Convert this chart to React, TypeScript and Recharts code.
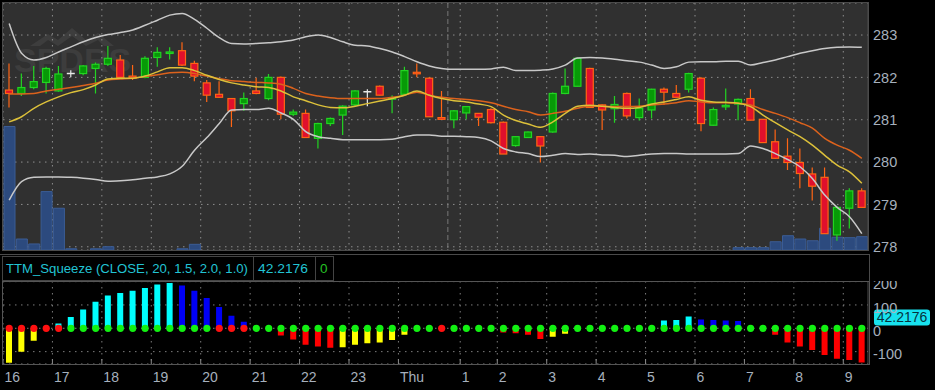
import React from 'react';
import { ComposedChart, Bar, Line, XAxis, YAxis, CartesianGrid, Cell, ReferenceLine } from 'recharts';

// hour labels and the bar index where each hour starts (15 min bars)
const hourLabels = ['16', '17', '18', '19', '20', '21', '22', '23', 'Thu', '1', '2', '3', '4', '5', '6', '7', '8', '9'];
const hourStarts = [0, 4, 8, 12, 16, 20, 24, 28, 32, 37, 40, 44, 48, 52, 56, 60, 64, 68];
const sessionBreak = [36];

const open = [
  281.70, 281.62, 281.76, 281.88, 281.68, 282.09, 282.09, 282.21, 282.31, 282.41,
  282.03, 282.00, 282.47, 282.57, 282.63, 282.33, 281.87, 281.60, 281.50, 281.38,
  281.68, 281.50, 282.00, 281.13, 281.15, 280.56, 280.91, 281.11, 281.35, 281.66,
  281.79, 281.49, 281.60, 282.12, 281.98, 281.05, 281.00, 281.16, 281.15, 281.24,
  280.94, 280.39, 280.58, 280.60, 280.71, 281.62, 281.79, 282.21, 281.35, 281.26,
  281.62, 281.05, 281.23, 281.72, 281.62, 281.72, 281.98, 280.87, 281.31, 281.37,
  281.50, 281.01, 280.48, 280.14, 279.99, 279.72, 279.64, 278.28, 278.91, 279.32,
];
const high = [
  282.33, 282.09, 282.27, 282.25, 282.27, 282.17, 282.29, 282.35, 282.74, 282.53,
  282.29, 282.50, 282.71, 282.71, 282.83, 282.39, 281.94, 281.91, 281.50, 281.64,
  281.99, 282.08, 282.02, 281.24, 281.24, 280.93, 281.05, 281.34, 281.70, 281.72,
  281.81, 281.58, 282.25, 282.33, 282.00, 281.68, 281.23, 281.32, 281.16, 281.27,
  280.96, 280.61, 280.72, 280.61, 281.64, 282.21, 282.47, 282.23, 281.36, 281.56,
  281.64, 281.50, 281.73, 281.76, 281.82, 282.11, 282.00, 281.29, 281.74, 281.50,
  281.72, 281.02, 280.77, 280.56, 280.32, 279.87, 279.87, 278.96, 279.38, 279.38,
];
const low = [
  281.29, 281.56, 281.72, 281.62, 281.66, 282.00, 282.05, 281.62, 282.27, 281.96,
  281.94, 281.98, 282.25, 282.42, 282.27, 281.91, 281.42, 281.52, 280.83, 281.21,
  281.60, 281.46, 281.01, 281.09, 280.58, 280.32, 280.85, 280.64, 281.32, 281.32,
  281.57, 281.15, 281.58, 282.00, 281.07, 281.00, 280.80, 281.01, 280.85, 280.91,
  280.19, 280.36, 280.57, 279.99, 280.69, 281.60, 281.79, 281.29, 280.76, 280.93,
  281.03, 280.98, 281.03, 281.35, 281.53, 281.64, 280.73, 280.86, 281.23, 280.99,
  280.99, 280.46, 280.07, 279.81, 279.38, 279.09, 278.30, 278.14, 278.43, 278.93,
];
const close = [
  281.62, 281.76, 281.90, 282.21, 282.08, 282.09, 282.27, 282.31, 282.45, 282.00,
  281.98, 282.45, 282.59, 282.60, 282.29, 282.03, 281.58, 281.53, 281.21, 281.50,
  281.62, 282.00, 281.13, 281.18, 280.58, 280.91, 281.03, 281.32, 281.68, 281.66,
  281.58, 281.52, 282.16, 282.09, 281.07, 281.01, 281.21, 281.31, 281.06, 280.93,
  280.19, 280.60, 280.71, 280.38, 281.62, 281.79, 282.45, 281.29, 281.23, 281.36,
  281.09, 281.27, 281.72, 281.65, 281.53, 282.09, 280.91, 281.24, 281.34, 281.48,
  280.99, 280.46, 280.09, 279.99, 279.73, 279.43, 278.31, 278.93, 279.32, 278.93,
];
// volume in thousands
const volume = [
  100, 8.9, 4.9, 47.3, 33.8, 1, 0, 1, 2.7, 0,
  0, 0, 0, 0, 1, 4.6, 0, 0, 0, 0,
  0, 0, 0, 0, 0, 0, 0, 0, 0, 0,
  0, 0, 0, 0, 0, 0, 0, 0, 0, 0,
  0, 0, 0, 0, 0, 0, 0, 0, 0, 0,
  0, 0, 0, 0, 0, 0, 0, 0, 0, 1.9,
  1.9, 1.9, 6.7, 11.6, 8.9, 7.5, 17.6, 10.3, 10, 10.8,
];
const bbUpper = [
  283.27, 282.57, 282.41, 282.47, 282.60, 282.72, 282.84, 282.94, 283.01, 283.06,
  283.12, 283.23, 283.35, 283.47, 283.51, 283.37, 283.16, 282.94, 282.80, 282.79,
  282.80, 282.82, 282.84, 282.88, 282.96, 283.00, 282.94, 282.84, 282.76, 282.74,
  282.68, 282.60, 282.49, 282.37, 282.27, 282.21, 282.19, 282.19, 282.19, 282.20,
  282.24, 282.16, 282.16, 282.17, 282.20, 282.29, 282.46, 282.47, 282.46, 282.43,
  282.39, 282.36, 282.29, 282.21, 282.25, 282.36, 282.37, 282.37, 282.38, 282.38,
  282.29, 282.35, 282.41, 282.49, 282.57, 282.63, 282.68, 282.71, 282.72, 282.71,
];
const bbLower = [
  279.10, 279.54, 279.64, 279.65, 279.65, 279.64, 279.62, 279.59, 279.55, 279.56,
  279.58, 279.62, 279.65, 279.72, 279.90, 280.28, 280.58, 280.91, 281.23, 281.24,
  281.24, 281.27, 281.16, 281.01, 280.72, 280.60, 280.56, 280.53, 280.53, 280.53,
  280.53, 280.54, 280.60, 280.64, 280.64, 280.61, 280.61, 280.60, 280.58, 280.50,
  280.32, 280.24, 280.20, 280.13, 280.16, 280.20, 280.18, 280.19, 280.17, 280.16,
  280.13, 280.16, 280.19, 280.20, 280.20, 280.19, 280.19, 280.19, 280.19, 280.20,
  280.38, 280.32, 280.20, 280.06, 279.89, 279.61, 279.22, 278.93, 278.71, 278.31,
];
const slowAvg = [
  281.61, 281.61, 281.62, 281.68, 281.72, 281.76, 281.81, 281.86, 281.94, 281.96,
  281.98, 282.02, 282.06, 282.11, 282.12, 282.09, 282.03, 281.97, 281.92, 281.90,
  281.88, 281.87, 281.84, 281.74, 281.62, 281.56, 281.52, 281.50, 281.50, 281.50,
  281.50, 281.53, 281.58, 281.65, 281.58, 281.53, 281.50, 281.48, 281.45, 281.40,
  281.32, 281.24, 281.19, 281.11, 281.15, 281.20, 281.27, 281.32, 281.32, 281.31,
  281.31, 281.32, 281.35, 281.37, 281.40, 281.45, 281.42, 281.40, 281.40, 281.39,
  281.35, 281.24, 281.15, 281.05, 280.93, 280.80, 280.56, 280.40, 280.28, 280.09,
];
const fastAvg = [
  280.95, 281.07, 281.27, 281.42, 281.54, 281.64, 281.71, 281.82, 281.96, 281.98,
  281.98, 282.03, 282.13, 282.23, 282.23, 282.16, 282.05, 281.95, 281.87, 281.82,
  281.78, 281.76, 281.68, 281.54, 281.45, 281.35, 281.29, 281.28, 281.32, 281.38,
  281.44, 281.50, 281.58, 281.68, 281.58, 281.50, 281.45, 281.42, 281.37, 281.31,
  281.11, 280.98, 280.90, 280.82, 280.95, 281.15, 281.32, 281.34, 281.32, 281.29,
  281.27, 281.29, 281.37, 281.42, 281.48, 281.54, 281.46, 281.42, 281.41, 281.39,
  281.31, 281.11, 280.93, 280.76, 280.60, 280.40, 280.16, 279.93, 279.77, 279.50,
];
const momentum = [
  -148, -100, -53, -2, 21, 48, 81, 114, 140, 151,
  161, 173, 188, 194, 183, 161, 130, 91, 54, 28,
  1, -1, -31, -48, -70, -78, -83, -81, -71, -64,
  -61, -50, -28, -2, -1, -1, -1, -1, -2, -3,
  -18, -21, -28, -46, -36, -23, -2, -1, 1, 1,
  2, 2, 3, 33, 36, 50, 38, 35, 33, 31,
  2, -1, -28, -61, -78, -93, -114, -131, -136, -147,
];
// 1 = squeeze on (red dot), 0 = off (green dot)
const squeezeOn = [
  1, 1, 1, 1, 1, 0, 0, 0, 0, 0,
  0, 0, 0, 0, 0, 0, 0, 1, 1, 1,
  0, 0, 0, 0, 0, 0, 0, 0, 0, 0,
  0, 0, 0, 0, 0, 1, 0, 0, 0, 0,
  0, 0, 0, 0, 0, 0, 0, 0, 0, 0,
  0, 0, 0, 0, 0, 0, 0, 0, 0, 0,
  0, 0, 0, 0, 0, 0, 0, 0, 0, 0,
];
const priceTicks = [278, 279, 280, 281, 282, 283];
const momTicks = [-100, 0, 100, 200];
const squeezeReading = 42.2176;
const studyTitle = 'TTM_Squeeze (CLOSE, 20, 1.5, 2.0, 1.0)';

const rows = open.map((o, i) => ({
  i,
  open: o,
  high: high[i],
  low: low[i],
  close: close[i],
  vol: volume[i],
  bbUpper: bbUpper[i],
  bbLower: bbLower[i],
  slow: slowAvg[i],
  fast: fastAvg[i],
  mom: momentum[i],
  squeeze: squeezeOn[i],
  zero: 0,
}));

const W = 935;
const LEFT = 3;
const AXIS_W = 67;
const BAND = (W - LEFT - AXIS_W) / rows.length;
const FONT = "'Liberation Sans', Arial, sans-serif";
const AXIS_TEXT = '#a6b0bd';

const momColor = (i: number) => {
  const v = momentum[i];
  const rising = i === 0 || v >= momentum[i - 1];
  if (v >= 0) return rising ? '#00ffff' : '#0000f5';
  return rising ? '#ffff00' : '#ff0000';
};

// grid lines sit on the left edge of the first bar of each hour
const boundaryX = (keys: number[]) => (args: any) => {
  const off = args && args.offset;
  const left = off && typeof off.left === 'number' ? off.left : LEFT;
  const width = off && typeof off.width === 'number' ? off.width : W - LEFT - AXIS_W;
  return keys.map((k) => left + (k * width) / rows.length);
};

const CandleShape = (props: any) => {
  const { x, y, width, height, payload } = props;
  if (!payload || x == null || y == null) return null;
  const { open: o, high: h, low: l, close: c } = payload;
  const top = Math.min(y, y + height);
  const span = Math.abs(height);
  const k = h > l ? span / (h - l) : 0;
  const py = (v: number) => top + (h - v) * k;
  const cx = x + width / 2;
  if (o === c) {
    const yy = py(o);
    return (
      <g>
        <line x1={cx} x2={cx} y1={top} y2={top + span} stroke="#e8e8e8" strokeWidth={1.2} />
        <line x1={x} x2={x + width} y1={yy} y2={yy} stroke="#e8e8e8" strokeWidth={1.5} />
      </g>
    );
  }
  const up = c > o;
  const edge = up ? '#22d422' : '#ff6514';
  const bodyTop = py(Math.max(o, c));
  const bodyH = Math.max(py(Math.min(o, c)) - bodyTop, 1.5);
  return (
    <g>
      <line x1={cx} x2={cx} y1={top} y2={top + span} stroke={edge} strokeWidth={1.2} />
      <rect x={x + 0.5} y={bodyTop} width={width - 1} height={bodyH} fill={up ? '#079a07' : '#e0102c'} stroke={edge} strokeWidth={1.2} />
    </g>
  );
};

const EdgeTick = (props: any) => {
  const { x, y, dir } = props;
  const bx = x - BAND / 2;
  return <line x1={bx} x2={bx} y1={y} y2={y + dir * 5} stroke="#8a8a8a" strokeWidth={1} />;
};

const HourTick = (props: any) => {
  const { x, y, payload } = props;
  const bx = x - BAND / 2;
  const label = hourLabels[hourStarts.indexOf(payload.value)];
  return (
    <g>
      <line x1={bx} x2={bx} y1={y - 5} y2={y} stroke="#8a8a8a" strokeWidth={1} />
      <text x={bx + 1.5} y={y + 18} fill={AXIS_TEXT} fontSize={14} fontFamily={FONT}>{label}</text>
    </g>
  );
};

const SideTick = (props: any) => {
  const { x, y, payload, shift } = props;
  return (
    <text x={x} y={y + (shift || 0)} dy="0.355em" textAnchor="start" fill={AXIS_TEXT} fontSize={14.5} fontFamily={FONT}>
      {payload.value}
    </text>
  );
};

const ValueTag = (props: any) => {
  const vb = props.viewBox;
  if (!vb) return null;
  const x = vb.x + vb.width + 6;
  const y = vb.y - 1;
  return (
    <g>
      <rect x={x} y={y - 8} width={56} height={16} rx={3} fill="#18e2ee" />
      <text x={x + 28} y={y + 5} textAnchor="middle" fontSize={14} fontFamily={FONT} fill="#05323c">
        {squeezeReading}
      </text>
    </g>
  );
};

const renderDot = (p: any) => (
  <circle key={`sq-${p.index}`} cx={p.cx} cy={p.cy} r={3.6} fill={p.payload.squeeze ? '#ff1010' : '#12f012'} />
);

export default function App() {
  return (
    <div style={{ position: 'absolute', left: 0, top: 0, width: W, height: 390, background: '#000', overflow: 'hidden', fontFamily: FONT }}>
      <svg width={W} height={390} style={{ position: 'absolute', left: 0, top: 0 }}>
        <rect x={3} y={3} width={865} height={247} fill="#303030" />
        <g fill="#3d3d3d">
          <polygon points="30,46 48,34 58,40 72,28 86,40 98,33 114,46 104,46 98,40 86,46 72,36 58,46 48,40 40,46" />
          <text x={14} y={72} fontSize={34} fontWeight={700} fontFamily={FONT}>SPDRS</text>
        </g>
      </svg>

      <div style={{ position: 'absolute', left: 0, top: 0 }}>
        <ComposedChart width={W} height={258} data={rows} margin={{ top: 3, right: 0, bottom: 8, left: LEFT }}>
          <CartesianGrid xAxisId="c" yAxisId="p" stroke="#8e8e8e" strokeDasharray="1.5 4.5" verticalCoordinatesGenerator={boundaryX(hourStarts)} />
          <CartesianGrid xAxisId="c" yAxisId="p" horizontal={false} stroke="#787878" strokeDasharray="5 3" verticalCoordinatesGenerator={boundaryX(sessionBreak)} />
          <XAxis xAxisId="c" dataKey="i" height={0} axisLine={false} tickLine={false} tickSize={0} tickMargin={0} ticks={hourStarts} interval={0} tick={<EdgeTick dir={-1} />} />
          <XAxis xAxisId="t" dataKey="i" orientation="top" height={0} axisLine={false} tickLine={false} tickSize={0} tickMargin={0} ticks={hourStarts} interval={0} tick={<EdgeTick dir={1} />} />
          <XAxis xAxisId="v" dataKey="i" hide />
          <YAxis
            yAxisId="p"
            orientation="right"
            width={AXIS_W}
            domain={[277.924, 283.756]}
            ticks={priceTicks}
            interval={0}
            allowDataOverflow
            axisLine={{ stroke: '#4d4d4d' }}
            tickLine={false}
            tickSize={4}
            tickMargin={1}
            tick={<SideTick shift={0} />}
          />
          <YAxis yAxisId="vol" hide domain={[0, 200]} allowDataOverflow />
          <Bar xAxisId="v" yAxisId="vol" dataKey="vol" barSize={11} fill="#2c4a7e" stroke="#3b5c94" isAnimationActive={false} />
          <Line xAxisId="c" yAxisId="p" type="monotone" dataKey="bbUpper" stroke="#c8c8c8" strokeWidth={1.5} dot={false} activeDot={false} isAnimationActive={false} />
          <Line xAxisId="c" yAxisId="p" type="monotone" dataKey="bbLower" stroke="#c8c8c8" strokeWidth={1.5} dot={false} activeDot={false} isAnimationActive={false} />
          <Line xAxisId="c" yAxisId="p" type="monotone" dataKey="slow" stroke="#dc621c" strokeWidth={1.5} dot={false} activeDot={false} isAnimationActive={false} />
          <Line xAxisId="c" yAxisId="p" type="monotone" dataKey="fast" stroke="#dcc03a" strokeWidth={1.5} dot={false} activeDot={false} isAnimationActive={false} />
          <Bar
            xAxisId="c"
            yAxisId="p"
            dataKey={(d: any) => [d.low, d.high]}
            barSize={8}
            shape={(p: any) => <CandleShape {...p} />}
            isAnimationActive={false}
          />
        </ComposedChart>
      </div>

      <div style={{ position: 'absolute', left: 0, top: 281 }}>
        <ComposedChart width={W} height={109} data={rows} margin={{ top: 0, right: 0, bottom: 0, left: LEFT }}>
          <CartesianGrid xAxisId="c" yAxisId="m" stroke="#7c7c7c" strokeDasharray="1.5 4.5" verticalCoordinatesGenerator={boundaryX(hourStarts)} />
          <XAxis xAxisId="c" dataKey="i" height={26} axisLine={false} tickLine={false} tickSize={0} tickMargin={0} ticks={hourStarts} interval={0} tick={<HourTick />} />
          <XAxis xAxisId="t" dataKey="i" orientation="top" height={0} axisLine={false} tickLine={false} tickSize={0} tickMargin={0} ticks={hourStarts} interval={0} tick={<EdgeTick dir={1} />} />
          <YAxis
            yAxisId="m"
            orientation="right"
            width={AXIS_W}
            domain={[-153, 202.6]}
            ticks={momTicks}
            interval={0}
            allowDataOverflow
            axisLine={{ stroke: '#4d4d4d' }}
            tickLine={false}
            tickSize={4}
            tickMargin={1}
            tick={<SideTick shift={2.5} />}
          />
          <Bar xAxisId="c" yAxisId="m" dataKey="mom" barSize={6} isAnimationActive={false}>
            {rows.map((r) => (
              <Cell key={`m-${r.i}`} fill={momColor(r.i)} />
            ))}
          </Bar>
          <Line xAxisId="c" yAxisId="m" dataKey="zero" stroke="none" dot={renderDot} activeDot={false} isAnimationActive={false} />
          <ReferenceLine xAxisId="c" yAxisId="m" y={squeezeReading} stroke="none" label={<ValueTag />} />
        </ComposedChart>
      </div>

      <svg width={W} height={390} style={{ position: 'absolute', left: 0, top: 0, pointerEvents: 'none' }}>
        <rect x={2.5} y={2.5} width={866} height={248} fill="none" stroke="#4a4a4a" />
        <line x1={0} x2={870} y1={254.5} y2={254.5} stroke="#4a4a4a" />
        <rect x={2.5} y={281.5} width={867} height={83} fill="none" stroke="#555" />
        <line x1={869.5} x2={869.5} y1={254.5} y2={281.5} stroke="#4a4a4a" />
        <rect x={2.5} y={256.5} width={251} height={24} fill="#000" stroke="#444" />
        <rect x={253.5} y={256.5} width={62} height={24} fill="#000" stroke="#444" />
        <rect x={315.5} y={256.5} width={18} height={24} fill="#000" stroke="#444" />
        <text x={6} y={273} fontSize={13.5} fontFamily={FONT} fill="#22c4d4" textLength={242} lengthAdjust="spacingAndGlyphs">
          {studyTitle}
        </text>
        <text x={258} y={273} fontSize={13.5} fontFamily={FONT} fill="#22c4d4" textLength={50} lengthAdjust="spacingAndGlyphs">
          {squeezeReading}
        </text>
        <text x={320} y={273} fontSize={13.5} fontFamily={FONT} fill="#24c024">0</text>
      </svg>
    </div>
  );
}
